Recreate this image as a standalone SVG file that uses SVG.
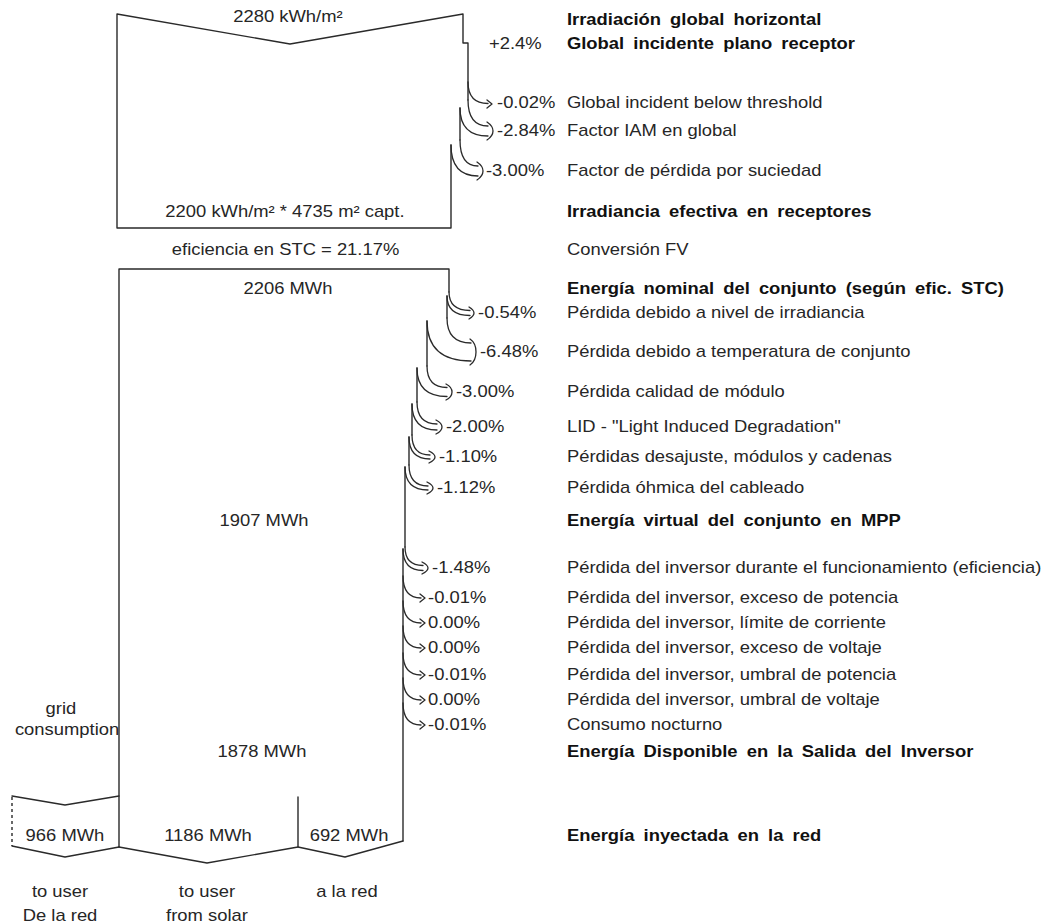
<svg xmlns="http://www.w3.org/2000/svg" width="1052" height="924" viewBox="0 0 1052 924">
<style>
.ln{fill:none;stroke:#2a2a2a;stroke-width:1.4;stroke-linejoin:round;stroke-linecap:round}
.ar{fill:none;stroke:#2a2a2a;stroke-width:1.3;stroke-linejoin:round;stroke-linecap:round}
.dash{fill:none;stroke:#2a2a2a;stroke-width:1.4;stroke-dasharray:3 3}
text{font-family:"Liberation Sans",Arial,sans-serif;font-size:16px;fill:#262626}
.b{font-weight:bold;fill:#111;word-spacing:3.5px}
.m{text-anchor:middle}
</style>
<rect width="1052" height="924" fill="#fff"/>

<g id="irradiation-box">
  <path class="ln" d="M468,100 L468,43 L463,43 L463,14 L290,44 L117,14 L117,228 L451,228 L451,145"/>
  <path class="ln" d="M460,108 L460,140"/>
</g>

<g id="energy-box">
  <path class="ln" d="M449,292 L449,269 L119,269 L119,847"/>
  <path class="ln" d="M447,296 L447,318"/>
  <path class="ln" d="M427,321 L427,366"/>
  <path class="ln" d="M417,368 L417,402"/>
  <path class="ln" d="M412,404 L412,435"/>
  <path class="ln" d="M409,437 L409,465"/>
  <path class="ln" d="M405,467 L405,547"/>
  <path class="ln" d="M403,549 L403,841"/>
</g>

<g id="output-user-solar">
  <path class="ln" d="M119,847 L207,863 L298,847 L298,797"/>
</g>
<g id="output-grid">
  <path class="ln" d="M298,847 L345,857 L403,841"/>
</g>
<g id="grid-consumption">
  <path class="ln" d="M12,796 L65,805 L119,796"/>
  <path class="ln" d="M12,846 L65,857 L119,847"/>
  <path class="dash" d="M12,797 L12,846"/>
</g>

<g id="connectors">
  <!-- top section losses -->
  <path class="ar" d="M468,82 Q468,103.5 488,103.5 M487,100 L492,104 L487,108"/>
  <path class="ar" d="M468,100 Q468,126 488,126 M460,108 Q460,136 488,136 M487,122 Q493,126 493,131 Q493,136 487,140"/>
  <path class="ar" d="M460,140 Q460,166 478,166 M451,145 Q451,176 478,176 M477,162 Q483,166 483,171 Q483,176 477,180"/>
  <!-- array losses -->
  <path class="ar" d="M449,292 Q449,310.5 470,310.5 M447,296 Q447,315.5 470,315.5 M469,307 Q474,310 474,313 Q474,316 469,319"/>
  <path class="ar" d="M447,318 Q447,343 471,343 M427,321 Q427,361 471,361 M470,339 Q476,343 476,352 Q476,361 470,365"/>
  <path class="ar" d="M427,366 Q427,387.5 447,387.5 M417,368 Q417,396.5 447,396.5 M446,384 Q452,387 452,392 Q452,397 446,400"/>
  <path class="ar" d="M417,402 Q417,424 437,424 M412,404 Q412,430 437,430 M436,420 Q442,423 442,427 Q442,431 436,434"/>
  <path class="ar" d="M412,435 Q412,455 430,455 M409,437 Q409,459 430,459 M429,451 Q435,454 435,457 Q435,460 429,463"/>
  <path class="ar" d="M409,465 Q409,486 428,486 M405,467 Q405,490 428,490 M427,482 Q433,485 433,488 Q433,491 427,494"/>
  <!-- inverter losses -->
  <path class="ar" d="M405,547 Q405,565.5 423,565.5 M403,549 Q403,570.5 423,570.5 M422,562 Q428,565 428,568 Q428,571 422,574"/>
  <path class="ar" d="M403,576 Q403,598 421,598 M420,594 L425,598 L420,602"/>
  <path class="ar" d="M403,601 Q403,623 421,623 M420,619 L425,623 L420,627"/>
  <path class="ar" d="M403,626 Q403,648 421,648 M420,644 L425,648 L420,652"/>
  <path class="ar" d="M403,653 Q403,675 421,675 M420,671 L425,675 L420,679"/>
  <path class="ar" d="M403,678 Q403,700 421,700 M420,696 L425,700 L420,704"/>
  <path class="ar" d="M403,703 Q403,725 421,725 M420,721 L425,725 L420,729"/>
</g>

<g id="labels" transform="scale(1.15 1)">
  <g id="values">
    <text class="m" x="250.4" y="22">2280 kWh/m²</text>
    <text class="m" x="247.8" y="217">2200 kWh/m² * 4735 m² capt.</text>
    <text class="m" x="248.3" y="255">eficiencia en STC = 21.17%</text>
    <text class="m" x="250.4" y="294">2206 MWh</text>
    <text class="m" x="229.6" y="526">1907 MWh</text>
    <text class="m" x="227.8" y="757">1878 MWh</text>
    <text class="m" x="53" y="714">grid</text>
    <text class="m" x="58.3" y="735">consumption</text>
    <text class="m" x="56.5" y="841">966 MWh</text>
    <text class="m" x="180.9" y="841">1186 MWh</text>
    <text class="m" x="303.5" y="841">692 MWh</text>
    <text class="m" x="52.2" y="897">to user</text>
    <text class="m" x="52.2" y="921">De la red</text>
    <text class="m" x="180" y="897">to user</text>
    <text class="m" x="180" y="921">from solar</text>
    <text class="m" x="301.7" y="897">a la red</text>
  </g>
  <g id="percentages">
    <text x="425.2" y="49">+2.4%</text>
    <text x="432.2" y="108">-0.02%</text>
    <text x="432.2" y="136">-2.84%</text>
    <text x="422.6" y="176">-3.00%</text>
    <text x="415.7" y="318">-0.54%</text>
    <text x="417.4" y="357">-6.48%</text>
    <text x="396.5" y="397">-3.00%</text>
    <text x="387.8" y="432">-2.00%</text>
    <text x="381.7" y="462">-1.10%</text>
    <text x="380" y="493">-1.12%</text>
    <text x="375.7" y="573">-1.48%</text>
    <text x="372.2" y="603">-0.01%</text>
    <text x="372.2" y="628">0.00%</text>
    <text x="372.2" y="653">0.00%</text>
    <text x="372.2" y="680">-0.01%</text>
    <text x="372.2" y="705">0.00%</text>
    <text x="372.2" y="730">-0.01%</text>
  </g>
  <g id="descriptions">
    <text class="b" x="493" y="25">Irradiación global horizontal</text>
    <text class="b" x="493" y="49">Global incidente plano receptor</text>
    <text x="493" y="108">Global incident below threshold</text>
    <text x="493" y="136">Factor IAM en global</text>
    <text x="493" y="176">Factor de pérdida por suciedad</text>
    <text class="b" x="493" y="217">Irradiancia efectiva en receptores</text>
    <text x="493" y="255">Conversión FV</text>
    <text class="b" x="493" y="294">Energía nominal del conjunto (según efic. STC)</text>
    <text x="493" y="318">Pérdida debido a nivel de irradiancia</text>
    <text x="493" y="357">Pérdida debido a temperatura de conjunto</text>
    <text x="493" y="397">Pérdida calidad de módulo</text>
    <text x="493" y="432">LID - "Light Induced Degradation"</text>
    <text x="493" y="462">Pérdidas desajuste, módulos y cadenas</text>
    <text x="493" y="493">Pérdida óhmica del cableado</text>
    <text class="b" x="493" y="526">Energía virtual del conjunto en MPP</text>
    <text x="493" y="573">Pérdida del inversor durante el funcionamiento (eficiencia)</text>
    <text x="493" y="603">Pérdida del inversor, exceso de potencia</text>
    <text x="493" y="628">Pérdida del inversor, límite de corriente</text>
    <text x="493" y="653">Pérdida del inversor, exceso de voltaje</text>
    <text x="493" y="680">Pérdida del inversor, umbral de potencia</text>
    <text x="493" y="705">Pérdida del inversor, umbral de voltaje</text>
    <text x="493" y="730">Consumo nocturno</text>
    <text class="b" x="493" y="757">Energía Disponible en la Salida del Inversor</text>
    <text class="b" x="493" y="841">Energía inyectada en la red</text>
  </g>
</g>
</svg>
